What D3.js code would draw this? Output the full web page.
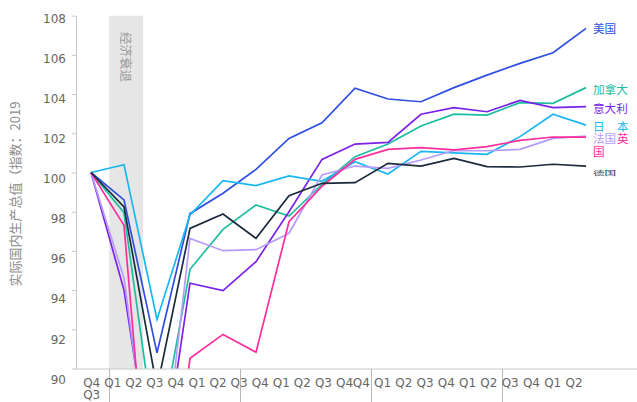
<!DOCTYPE html>
<html><head><meta charset="utf-8">
<script src="https://cdn.jsdelivr.net/npm/d3@7"></script>
<style>
html,body{margin:0;padding:0;background:#fff;}
svg{display:block;}
</style></head>
<body>
<svg id="chart" width="637" height="402"></svg>
<script>
// ---- data ----
const quarters = ["2019Q4","2020Q1","2020Q2","2020Q3","2020Q4","2021Q1","2021Q2","2021Q3","2021Q4","2022Q1","2022Q2","2022Q3","2022Q4","2023Q1","2023Q2","2023Q3"];
const usa     = [100, 98.6, 90.8, 97.9, 98.94, 100.16, 101.74, 102.54, 104.3, 103.75, 103.61, 104.33, 104.97, 105.57, 106.11, 107.35];
const canada  = [100, 97.95, 85.8, 95.06, 97.1, 98.34, 97.78, 99.4, 100.81, 101.45, 102.37, 102.98, 102.93, 103.56, 103.53, 104.33];
const italy   = [100, 94.0, 83.0, 94.35, 93.97, 95.45, 98.0, 100.67, 101.45, 101.54, 102.97, 103.31, 103.1, 103.68, 103.31, 103.36];
const japan   = [100, 100.4, 92.5, 97.83, 99.58, 99.33, 99.83, 99.55, 100.55, 99.92, 101.08, 101.0, 100.93, 101.83, 102.97, 102.42];
const france  = [100, 94.6, 82.0, 96.64, 96.01, 96.06, 96.9, 99.87, 100.33, 100.21, 100.64, 101.12, 101.11, 101.18, 101.74, 101.86];
const uk      = [100, 97.3, 77.5, 90.52, 91.74, 90.83, 97.49, 99.3, 100.67, 101.18, 101.27, 101.15, 101.32, 101.64, 101.81, 101.8];
const germany = [100, 98.25, 89.0, 97.15, 97.88, 96.64, 98.82, 99.45, 99.48, 100.47, 100.33, 100.72, 100.3, 100.28, 100.42, 100.33];

const seriesNames = ["美国","加拿大","意大利","日本","法国","英国","德国"];
const seriesData  = [usa, canada, italy, japan, france, uk, germany];
const seriesColors = ["#2f4fe0","#1dbea0","#7b22ea","#19b6f2","#b59cfb","#fb2e9c","#1b2a3c"];

const yTicks = [90,92,94,96,98,100,102,104,106,108];
const xLabelsA = ["Q4","Q1","Q2","Q3","Q4","Q1","Q2","Q3","Q4","Q1","Q2","Q3","Q4"];
const xLabelsB = ["Q4","Q1","Q2","Q3","Q4","Q1","Q2","Q3","Q4","Q1","Q2"];
const firstSubLabel = "Q3";
const yTitle = "实际国内生产总值（指数：2019";
const recessionLabel = "经济衰退";

// ---- scales ----
const svg = d3.select("#chart");
const W = 637, H = 402;
const mLeft = 76, mTop = 15.7, mBottom = 368.5, mRight = 637;
const y = d3.scaleLinear().domain([90,108]).range([mBottom, mTop]);
const yLab = d3.scaleLinear().domain([90,108]).range([379, 18]);
const x = d3.scaleLinear().domain([0, quarters.length-1]).range([91, 586]);
const xa = d3.scalePoint().domain(d3.range(xLabelsA.length)).range([91.7, 344.5]);
const xb = d3.scalePoint().domain(d3.range(xLabelsB.length)).range([361.3, 574]);

const font = "'DejaVu Sans', Verdana, sans-serif";
const cjk = "'Noto Sans CJK SC', sans-serif";

// recession shade
svg.append("rect")
  .attr("x", x(0.55)).attr("y", mTop)
  .attr("width", x(1.58) - x(0.55)).attr("height", mBottom - mTop + 0.5)
  .attr("fill", "#e6e6e6");
svg.append("text")
  .attr("transform", `translate(${(x(0.55)+x(1.58))/2},${57}) rotate(90)`)
  .attr("text-anchor","middle").attr("dominant-baseline","central")
  .attr("font-family", cjk).attr("font-size", 12.5).attr("fill","#999")
  .text(recessionLabel);

// y axis
const yAxis = svg.append("g").attr("transform", `translate(${mLeft},0)`)
  .call(d3.axisLeft(y).tickValues(yTicks).tickSize(4).tickSizeOuter(0));
yAxis.select(".domain").attr("stroke","#c8c8c8");
yAxis.selectAll(".tick line").attr("stroke","#c8c8c8");
yAxis.selectAll(".tick text")
  .attr("x", -10)
  .attr("y", d => yLab(d) - y(d))
  .attr("dy","0.35em")
  .attr("font-family", font).attr("font-size", 12).attr("fill","#666");

// x axis line
svg.append("line").attr("x1", mLeft).attr("x2", mRight)
  .attr("y1", mBottom + 0.5).attr("y2", mBottom + 0.5).attr("stroke","#c8c8c8");
// year separators
svg.selectAll("line.sep").data([0.55, 4.52, 8.49, 12.46]).enter().append("line")
  .attr("class","sep")
  .attr("x1", d => Math.round(x(d))+0.5).attr("x2", d => Math.round(x(d))+0.5)
  .attr("y1", mBottom + 0.5).attr("y2", H).attr("stroke","#b8b8b8");

// x labels
const xl = svg.append("g").attr("font-family", font).attr("font-size", 12).attr("fill","#666").attr("text-anchor","middle");
xl.selectAll("text.a").data(xLabelsA).enter().append("text").attr("class","a")
  .attr("x", (d,i) => xa(i)).attr("y", 383).attr("dy","0.35em").text(d => d);
xl.selectAll("text.b").data(xLabelsB).enter().append("text").attr("class","b")
  .attr("x", (d,i) => xb(i)).attr("y", 383).attr("dy","0.35em").text(d => d);
xl.append("text").attr("x", xa(0)).attr("y", 395).attr("dy","0.35em").text(firstSubLabel);

// y title
svg.append("text")
  .attr("transform", `translate(14,194) rotate(-90)`)
  .attr("text-anchor","middle").attr("dominant-baseline","central")
  .attr("font-family", cjk).attr("font-size", 13).attr("fill","#8c8c8c")
  .text(yTitle);

// clip
svg.append("clipPath").attr("id","plotclip").append("rect")
  .attr("x", mLeft).attr("y", 0).attr("width", W - mLeft).attr("height", mBottom);

const line = d3.line().x((d,i) => x(i)).y(d => y(d));
const lines = svg.append("g").attr("clip-path","url(#plotclip)");
seriesData.forEach((s, k) => {
  lines.append("path").datum(s)
    .attr("d", line).attr("fill","none")
    .attr("stroke", seriesColors[k]).attr("stroke-width", 1.7)
    .attr("stroke-linejoin","miter");
});

// labels at end
const lab = svg.append("g").attr("font-family", cjk).attr("font-size", 11.6);
const lx = 593;
lab.append("text").attr("x", lx).attr("y", y(usa[15])).attr("dy","0.35em").attr("fill", seriesColors[0]).text(seriesNames[0]);
lab.append("text").attr("x", lx).attr("y", 90).attr("dy","0.35em").attr("fill", seriesColors[1]).text(seriesNames[1]);
lab.append("text").attr("x", lx).attr("y", 109).attr("dy","0.35em").attr("fill", seriesColors[2]).text(seriesNames[2]);
const jp = lab.append("text").attr("y", 127).attr("dy","0.35em").attr("fill", seriesColors[3]);
jp.append("tspan").attr("x", lx).text(seriesNames[3][0]);
jp.append("tspan").attr("x", lx + 24).text(seriesNames[3][1]);
const fr = lab.append("text").attr("y", 139.3).attr("dy","0.35em");
fr.append("tspan").attr("x", lx).attr("fill", seriesColors[4]).text(seriesNames[4]);
fr.append("tspan").attr("x", lx + 24).attr("fill", seriesColors[5]).text(seriesNames[5][0]);
lab.append("text").attr("x", lx).attr("y", 151.7).attr("dy","0.35em").attr("fill", seriesColors[5]).text(seriesNames[5][1]);
lab.append("text").attr("transform", `translate(${lx},${173}) scale(1,0.45)`)
  .attr("dy","0.35em").attr("fill", seriesColors[6]).text(seriesNames[6]);
</script>
</body></html>
